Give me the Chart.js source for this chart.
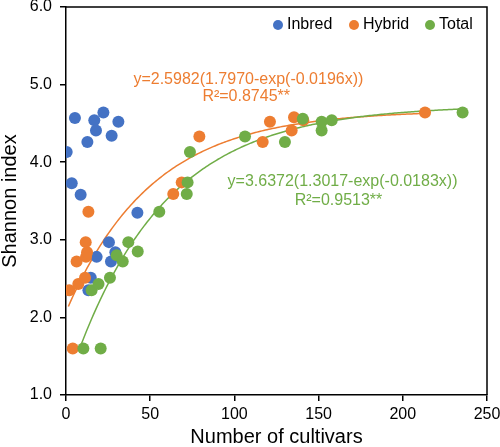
<!DOCTYPE html>
<html lang="en">

<head>
    <meta charset="UTF-8">
    <title>Shannon index x Number of cultivars</title>
    <script src="https://cdn.jsdelivr.net/npm/chart.js"></script>
    <style>
        body { margin: 0; background: #fff; }
        .grafico { width: 500px; height: 447px; }
    </style>
</head>

<body>
    <div class="grafico"><canvas id="meuGrafico" width="500" height="447"></canvas></div>
</body>
</html>

<script>
    // pontos
    var inbredX = [0.4, 3.4, 5.3, 8.7, 12.7, 13.3, 14.7, 16.8, 17.8, 18.2, 22.2, 25.5, 26.7, 27.1, 29.3, 31.1, 42.4];
    var inbredY = [4.13, 3.73, 4.57, 3.58, 4.26, 2.35, 2.51, 4.54, 4.41, 2.78, 4.64, 2.97, 2.72, 4.34, 2.84, 4.52, 3.35];

    var hybridX = [2.0, 4.0, 6.3, 7.3, 11.3, 11.9, 12.5, 11.7, 13.3, 63.7, 68.7, 79.2, 116.8, 121.1, 134.0, 135.4, 140.9, 213.2];
    var hybridY = [2.35, 1.6, 2.72, 2.43, 2.51, 2.78, 2.84, 2.97, 3.36, 3.59, 3.74, 4.33, 4.26, 4.52, 4.41, 4.58, 4.54, 4.64];

    var totalX = [10.3, 20.6, 15.2, 19.3, 26.1, 30.1, 33.7, 37.0, 42.6, 55.4, 71.7, 72.2, 73.6, 106.3, 130.0, 140.6, 151.8, 151.8, 157.8, 235.5];
    var totalY = [1.6, 1.6, 2.35, 2.43, 2.51, 2.80, 2.72, 2.97, 2.85, 3.36, 3.59, 3.74, 4.13, 4.33, 4.26, 4.56, 4.41, 4.52, 4.54, 4.64];

    // coeficientes das curvas ajustadas: y = a(b - exp(c x)), de xIni a xFim
    var hybridFit = [2.5982, 1.7970, -0.0196, 1.4, 213.2];
    var totalFit = [3.6372, 1.3017, -0.0183, 8.3, 235.5];

    var seriesNames = ['Inbred', 'Hybrid', 'Total'];
    var hybridEq = ['y=2.5982(1.7970-exp(-0.0196x))', 'R\u00B2=0.8745**'];
    var totalEq = ['y=3.6372(1.3017-exp(-0.0183x))', 'R\u00B2=0.9513**'];

    var xTicks = [0, 50, 100, 150, 200, 250];
    var yTicks = [1, 2, 3, 4, 5, 6];

    var azul = '#4472C4';
    var laranja = '#ED7D31';
    var verde = '#70AD47';

    function pontos(xs, ys) {
        return xs.map(function (x, i) { return { x: x, y: ys[i] }; });
    }

    function curva(fit) {
        var a = fit[0], b = fit[1], c = fit[2];
        var lista = [];
        for (var x = fit[3]; x < fit[4]; x += 1) {
            lista.push({ x: x, y: a * (b - Math.exp(c * x)) });
        }
        lista.push({ x: fit[4], y: a * (b - Math.exp(c * fit[4])) });
        return lista;
    }

    var fonte = 'Liberation Sans, Arial, sans-serif';

    // moldura, legenda e equacoes
    var extras = {
        id: 'extras',
        afterDraw: function (chart) {
            var ctx = chart.ctx;
            var area = chart.chartArea;
            var sx = chart.scales.x, sy = chart.scales.y;
            ctx.save();
            ctx.strokeStyle = '#000';
            ctx.lineWidth = 1.5;
            ctx.beginPath();
            ctx.moveTo(area.left, area.top);
            ctx.lineTo(area.right, area.top);
            ctx.lineTo(area.right, area.bottom);
            ctx.stroke();

            // legenda
            var cores = [azul, laranja, verde];
            var posX = [278, 354, 430];
            ctx.font = '16px ' + fonte;
            ctx.textBaseline = 'middle';
            ctx.textAlign = 'left';
            for (var i = 0; i < seriesNames.length; i++) {
                ctx.fillStyle = cores[i];
                ctx.beginPath();
                ctx.arc(posX[i], 25, 5, 0, Math.PI * 2);
                ctx.fill();
                ctx.fillStyle = '#000';
                ctx.fillText(seriesNames[i], posX[i] + 9, 25);
            }

            // equacoes
            ctx.textAlign = 'center';
            ctx.fillStyle = laranja;
            ctx.fillText(hybridEq[0], sx.getPixelForValue(108.3), sy.getPixelForValue(5.07));
            ctx.fillText(hybridEq[1], sx.getPixelForValue(107.0), sy.getPixelForValue(4.84));
            ctx.fillStyle = verde;
            ctx.fillText(totalEq[0], sx.getPixelForValue(164.2), sy.getPixelForValue(3.745));
            ctx.fillText(totalEq[1], sx.getPixelForValue(161.8), sy.getPixelForValue(3.51));
            ctx.restore();
        }
    };

    var ctx = document.getElementById('meuGrafico').getContext('2d');

    var chartData = {
        datasets: [
            {
                label: seriesNames[0],
                data: pontos(inbredX, inbredY),
                backgroundColor: azul,
                borderColor: azul,
                pointRadius: 6,
                pointBorderWidth: 0,
                order: 3
            },
            {
                label: seriesNames[1],
                data: pontos(hybridX, hybridY),
                backgroundColor: laranja,
                borderColor: laranja,
                pointRadius: 6,
                pointBorderWidth: 0,
                order: 2
            },
            {
                label: seriesNames[2],
                data: pontos(totalX, totalY),
                backgroundColor: verde,
                borderColor: verde,
                pointRadius: 6,
                pointBorderWidth: 0,
                order: 1
            },
            {
                type: 'line',
                label: 'Hybrid fit',
                data: curva(hybridFit),
                borderColor: laranja,
                borderWidth: 1.5,
                pointRadius: 0,
                fill: false,
                order: 6
            },
            {
                type: 'line',
                label: 'Total fit',
                data: curva(totalFit),
                borderColor: verde,
                borderWidth: 1.5,
                pointRadius: 0,
                fill: false,
                order: 5
            }
        ]
    };

    var config = {
        type: 'scatter',
        data: chartData,
        options: {
            responsive: false,
            animation: false,
            layout: { padding: { top: 7, right: 13 } },
            scales: {
                x: {
                    type: 'linear',
                    min: 0,
                    max: 250,
                    afterBuildTicks: function (scale) {
                        scale.ticks = xTicks.map(function (v) { return { value: v }; });
                    },
                    afterFit: function (scale) {
                        scale.height = 52;
                        scale.paddingLeft = 0;
                        scale.paddingRight = 0;
                    },
                    grid: { drawOnChartArea: false, tickLength: 6, color: '#000', lineWidth: 1.5 },
                    border: { color: '#000', width: 1.5 },
                    ticks: { padding: 4, color: '#000', font: { size: 16, family: fonte } },
                    title: {
                        display: true,
                        text: 'Number of cultivars',
                        color: '#000',
                        padding: 0,
                        font: { size: 20, family: fonte, lineHeight: 1 }
                    }
                },
                y: {
                    type: 'linear',
                    min: 1,
                    max: 6,
                    afterBuildTicks: function (scale) {
                        scale.ticks = yTicks.map(function (v) { return { value: v }; });
                    },
                    afterFit: function (scale) {
                        scale.width = 66;
                        scale.paddingTop = 0;
                        scale.paddingBottom = 0;
                    },
                    grid: { drawOnChartArea: false, tickLength: 6, color: '#000', lineWidth: 1.5 },
                    border: { color: '#000', width: 1.5 },
                    ticks: {
                        padding: 8,
                        color: '#000',
                        font: { size: 16, family: fonte },
                        callback: function (v) { return v.toFixed(1); }
                    },
                    title: {
                        display: true,
                        text: 'Shannon index',
                        color: '#000',
                        padding: 0,
                        font: { size: 20, family: fonte, lineHeight: 1 }
                    }
                }
            },
            plugins: {
                legend: { display: false },
                tooltip: { enabled: false }
            }
        },
        plugins: [extras]
    };

    new Chart(ctx, config);
</script>
